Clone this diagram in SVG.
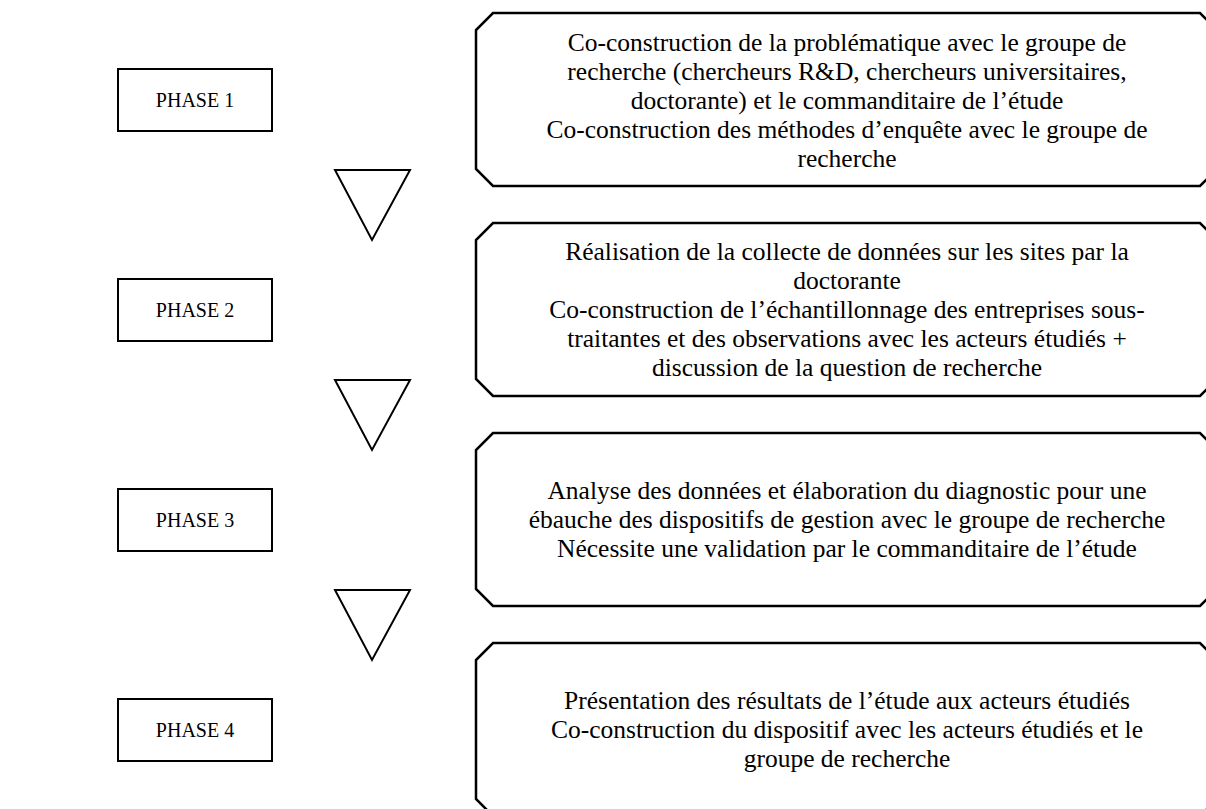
<svg xmlns="http://www.w3.org/2000/svg" width="1206" height="809" viewBox="0 0 1206 809">
<style>
.ph{fill:#fff;stroke:#000;stroke-width:2}
.bx{fill:#fff;stroke:#000;stroke-width:2.5;stroke-linejoin:miter}
.tri{fill:#fff;stroke:#000;stroke-width:2}
text{font-family:"Liberation Serif","Times New Roman",serif;font-size:25.5px;fill:#000;text-anchor:middle}
text.pt{font-size:20px}
</style>
<g id="phase1"><rect class="ph" x="118" y="69" width="154" height="62"/><text class="pt" x="195" y="107">PHASE 1</text></g>
<g id="phase2"><rect class="ph" x="118" y="279" width="154" height="62"/><text class="pt" x="195" y="317">PHASE 2</text></g>
<g id="phase3"><rect class="ph" x="118" y="489" width="154" height="62"/><text class="pt" x="195" y="527">PHASE 3</text></g>
<g id="phase4"><rect class="ph" x="118" y="699" width="154" height="62"/><text class="pt" x="195" y="737">PHASE 4</text></g>
<g id="connectors">
<polygon class="tri" points="335,170 410,170 372,240"/>
<polygon class="tri" points="335,380 410,380 372,450"/>
<polygon class="tri" points="335,590 410,590 372,660"/>
</g>
<g id="box1">
<polygon class="bx" points="493,13 1200,13 1217,30 1217,169 1200,186 493,186 476,169 476,30"/>
<text x="847" y="51">Co-construction de la problématique avec le groupe de</text>
<text x="847" y="80">recherche (chercheurs R&amp;D, chercheurs universitaires,</text>
<text x="847" y="109">doctorante) et le commanditaire de l’étude</text>
<text x="847" y="138">Co-construction des méthodes d’enquête avec le groupe de</text>
<text x="847" y="167">recherche</text>
</g>
<g id="box2">
<polygon class="bx" points="493,223 1200,223 1217,240 1217,379 1200,396 493,396 476,379 476,240"/>
<text x="847" y="260">Réalisation de la collecte de données sur les sites par la</text>
<text x="847" y="289">doctorante</text>
<text x="847" y="318">Co-construction de l’échantillonnage des entreprises sous-</text>
<text x="847" y="347">traitantes et des observations avec les acteurs étudiés +</text>
<text x="847" y="376">discussion de la question de recherche</text>
</g>
<g id="box3">
<polygon class="bx" points="493,433 1200,433 1217,450 1217,589 1200,606 493,606 476,589 476,450"/>
<text x="847" y="499">Analyse des données et élaboration du diagnostic pour une</text>
<text x="847" y="528">ébauche des dispositifs de gestion avec le groupe de recherche</text>
<text x="847" y="557">Nécessite une validation par le commanditaire de l’étude</text>
</g>
<g id="box4">
<polygon class="bx" points="493,643 1200,643 1217,660 1217,799 1200,816 493,816 476,799 476,660"/>
<text x="847" y="709">Présentation des résultats de l’étude aux acteurs étudiés</text>
<text x="847" y="738">Co-construction du dispositif avec les acteurs étudiés et le</text>
<text x="847" y="767">groupe de recherche</text>
</g>
</svg>
